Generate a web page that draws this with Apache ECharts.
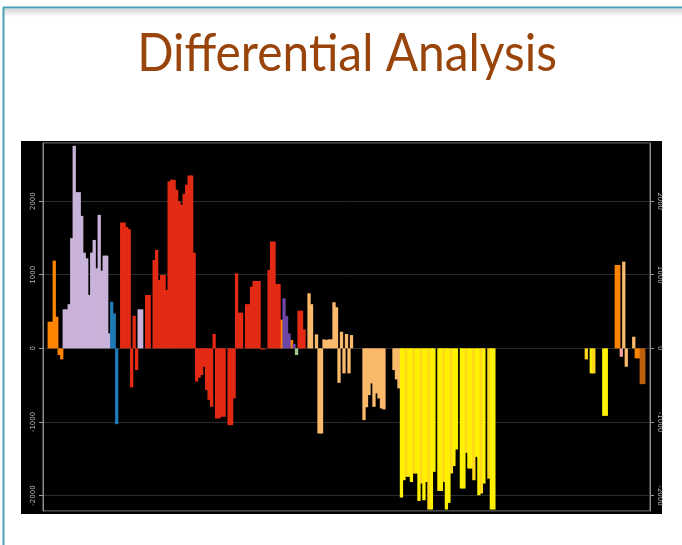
<!DOCTYPE html>
<html><head><meta charset="utf-8">
<script src="https://cdn.jsdelivr.net/npm/echarts@6/dist/echarts.min.js"></script>
<style>html,body{margin:0;padding:0;background:#fff;}#c{width:682px;height:545px;}</style>
</head><body><div id="c"></div>
<script>
// ---- data ----
const titleText = 'Differential Analysis';
const yTicks = [-2000, -1000, 0, 1000, 2000];
const yMin = -2210, yMax = 2790;

const orangeA = [362, 362, 1192, 430, -90, -150];
const lilacA = [530, 530, 600, 1497, 2752, 2122, 2122, 1800, 1300, 1224, 725, 1301, 1473, 1088, 1814, 1056, 1260, 1260, 204];
const blueA = [634, 476, -1030];
const redA = [1709, 1709, 1650, 1619, -531, 443, -295];
const lilacB = [530, 530];
const redB = [725, 725, null, 1200, 1337, 929, 997, 997, 793, 2267, 2290, 2290, 2154, 1995, 1950, 2100, 2222, 2349, 2349, 1300,
  -450, -400, -363, -250, -567, -700, -794, 195, -952, -952, -930, -930, null, -1043, -1043, -680, 1020, 485, 485, null,
  600, 600, 838, 916, 916, 916, -15, -15, null, 1065, 1451, 1451, 875, 875];
const orangeB = [390];
const purpleA = [680, 440, 204];
const orangeC = [113];
const purpleB = [61];
const greenA = [-90];
const redC = [512, 512, 258];
const peachA = [748, 600, null, 190, -1157, -1157, 122, 113, 122, 122, 626, 558, -468, 226, -340, 195, -340, 180];
const peachB = [-975, -800, -635, -476, -794, -612, -680, -816, -830];
const peachC = [-295, -422, -544];
const yellowA = [-2027, -1792, -1746, -1746, -1815, -1701, -1701, -2073, -1837, -2064, -1815, -2190, -2190, -1678];
const yellowB = [-1937, -1937, -1815, -2190, -2100, -1700, -1600, -1374];
const yellowC = [-1905, -1905, -1420, -1633, -1633, -1792, -1474, -1996, -1973, -1837, null, -1770, -2190, -2190];
const yellowD = [-150, null, -340, -340, null, null, null, -917, -917];
const orangeD = [1133, 1133];
const pinkA = [-114];
const peachD = [1178, -250, null, null, 158];
const orangeE = [-136, -136];
const brownA = [-486, -486];

// [empty slots before, group, values]
const layout = [
  [2, 'orange', orangeA], [0, 'lilac', lilacA], [0, 'blue', blueA], [1, 'red', redA],
  [0, 'lilac', lilacB], [1, 'red', redB], [0, 'orange', orangeB], [0, 'purple', purpleA],
  [0, 'orange', orangeC], [0, 'purple', purpleB], [0, 'green', greenA], [0, 'red', redC],
  [1, 'peach', peachA], [4, 'peach', peachB], [3, 'peach', peachC], [0, 'yellow', yellowA],
  [1, 'yellow', yellowB], [1, 'yellow', yellowC], [36, 'yellow', yellowD], [3, 'orange', orangeD],
  [0, 'pink', pinkA], [0, 'peach', peachD], [0, 'orange', orangeE], [0, 'brown', brownA]
];
const trailingEmpty = 2;

const colors = {
  orange: '#FF8500', lilac: '#C9B3DA', blue: '#1F7BB8', red: '#E22A14', purple: '#6E46A8',
  green: '#9CCB8C', peach: '#FBBA6B', yellow: '#FFF200', pink: '#F7A3A0', brown: '#C0600E'
};

// ---- build ----
const N = layout.reduce((s, l) => s + l[0] + l[2].length, 0) + trailingEmpty;
const categories = Array.from({length: N}, (_, i) => String(i + 1));
const byGroup = {};
Object.keys(colors).forEach(k => byGroup[k] = new Array(N).fill(null));
let pos = 0;
layout.forEach(([gap, key, vals]) => {
  pos += gap;
  vals.forEach((v, i) => { byGroup[key][pos + i] = v; });
  pos += vals.length;
});

const series = Object.keys(colors).map(k => ({
  type: 'bar', name: k, data: byGroup[k], barGap: '-100%', barWidth: 3.3,
  yAxisIndex: 0,
  itemStyle: {
    color: k === 'yellow'
      ? (p => (p.dataIndex % 3 === 1 ? '#FFD81C' : '#FFF200'))
      : colors[k]
  },
  animation: false, silent: true
}));

const axisCommon = (side) => ({
  type: 'value', min: yMin, max: yMax, position: side,
  axisLine: {show: true, lineStyle: {color: '#8c8c8c', width: 1}},
  axisTick: {show: true, length: 4, lineStyle: {color: '#9a9a9a'}},
  axisLabel: {
    show: true, rotate: side === 'left' ? 90 : -90, fontSize: 7, color: '#b8b8b8', margin: 6,
    fontFamily: 'DejaVu Sans',
    showMinLabel: false, showMaxLabel: false,
    formatter: v => (yTicks.indexOf(v) >= 0 ? String(v) : '')
  },
  splitLine: {show: side === 'left', lineStyle: {color: '#2c2c2c', width: 1}}
});

const chart = echarts.init(document.getElementById('c'), null, {renderer: 'canvas'});
chart.setOption({
  backgroundColor: '#ffffff',
  animation: false,
  grid: {left: 43, right: 32, top: 143, bottom: 34, show: true, backgroundColor: '#000', borderColor: '#8c8c8c', borderWidth: 1, containLabel: false},
  xAxis: {type: 'category', data: categories, axisLine: {show: false}, axisTick: {show: false}, axisLabel: {show: false}, splitLine: {show: false}},
  yAxis: [axisCommon('left'), axisCommon('right')],
  series: series,
  graphic: [
    {type: 'rect', z: -10, shape: {x: 21, y: 141, width: 641, height: 373}, style: {fill: '#000'}},
    {type: 'rect', z: -20, shape: {x: 4, y: 9, width: 678, height: 8},
      style: {fill: new echarts.graphic.LinearGradient(0, 0, 0, 1, [{offset: 0, color: '#d6d6d6'}, {offset: 1, color: '#ffffff'}])}},
    {type: 'line', z: 10, shape: {x1: 3, y1: 7.5, x2: 682, y2: 7.5}, style: {stroke: '#4a9fb8', lineWidth: 2}},
    {type: 'line', z: 10, shape: {x1: 3.5, y1: 7, x2: 3.5, y2: 545}, style: {stroke: '#4a9fb8', lineWidth: 2}},
    {type: 'text', z: 10, x: 347, y: 54, scaleX: 0.92,
      style: {text: titleText, font: '52px Lato', fill: '#99440a', align: 'center', verticalAlign: 'middle'}}
  ]
});
</script></body></html>
